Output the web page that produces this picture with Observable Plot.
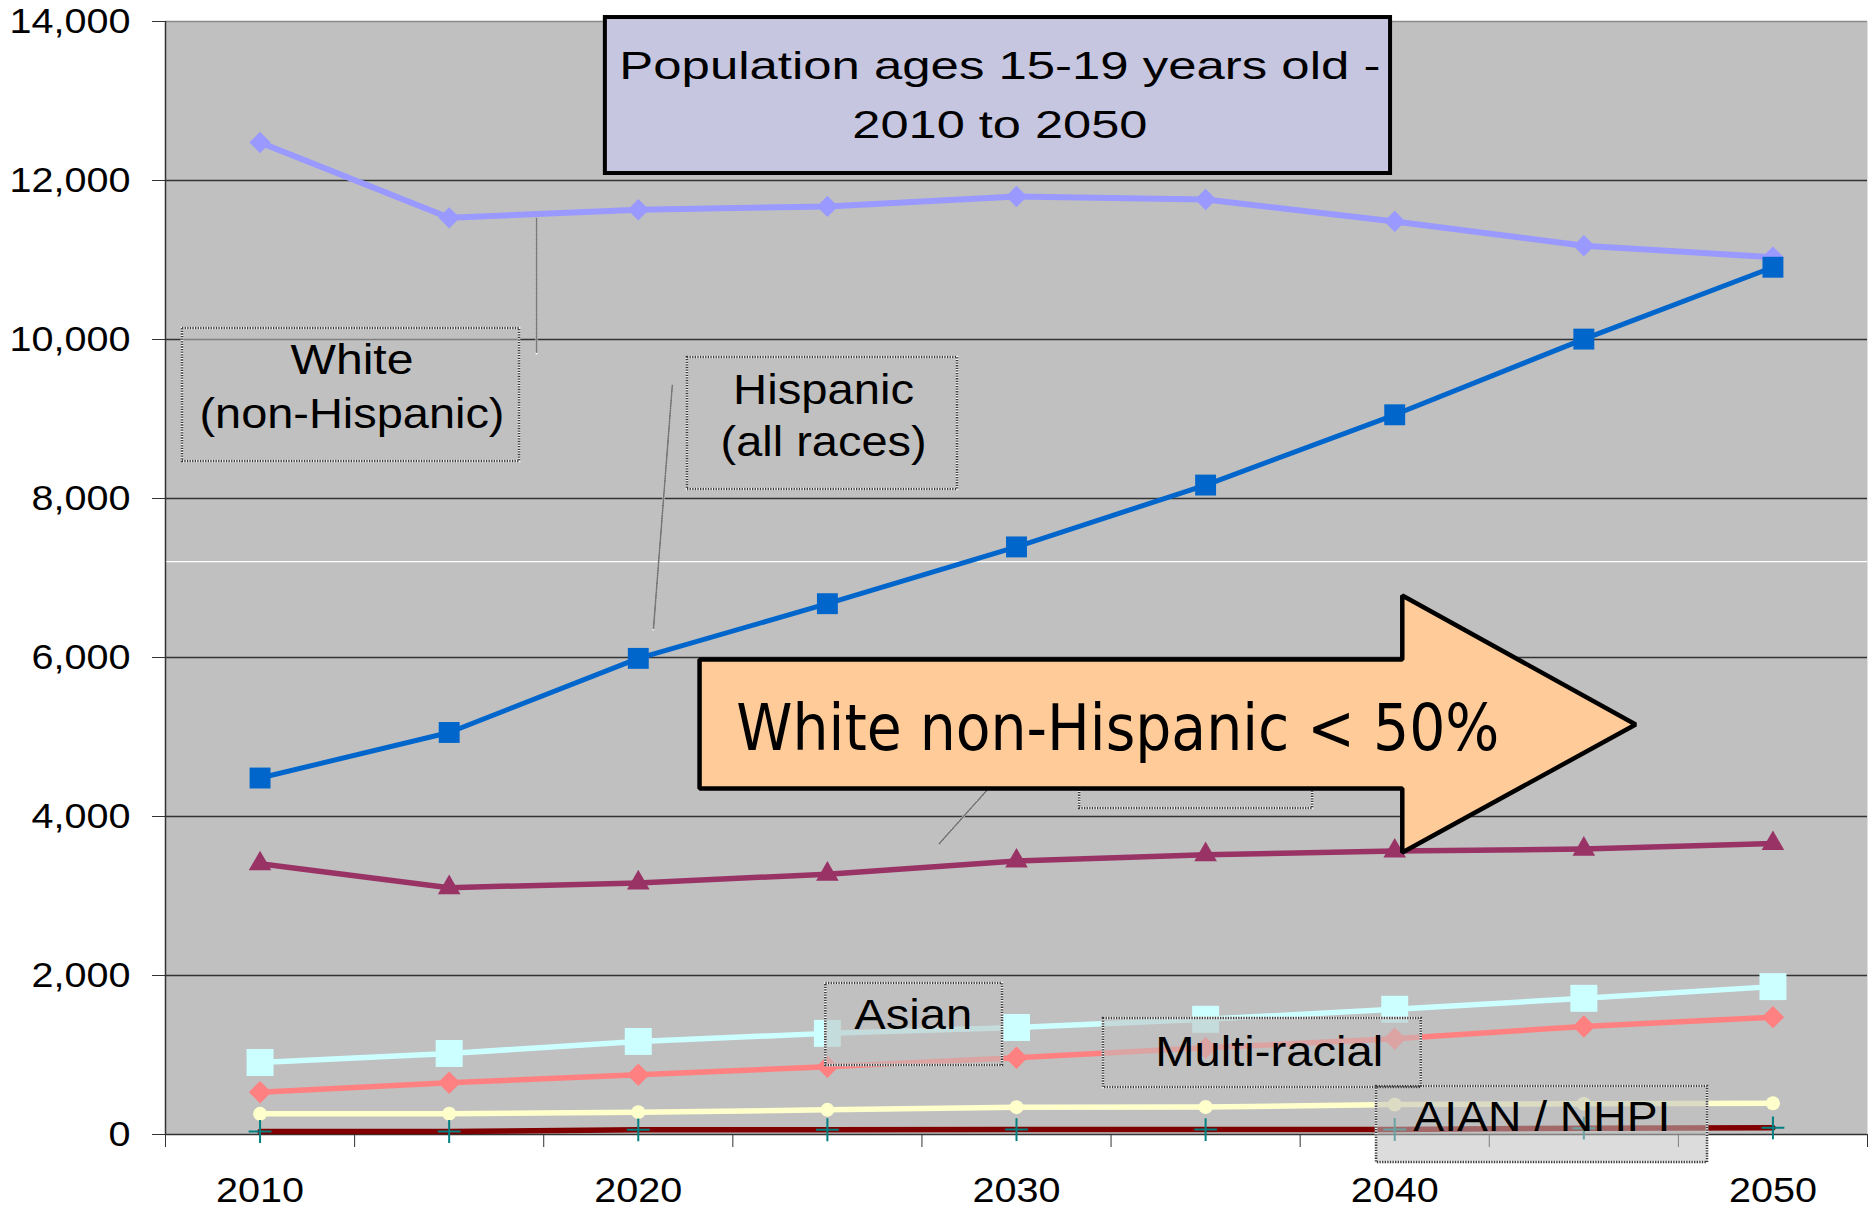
<!DOCTYPE html>
<html>
<head>
<meta charset="utf-8">
<script src="https://cdn.jsdelivr.net/npm/d3@7"></script>
<script src="https://cdn.jsdelivr.net/npm/@observablehq/plot@0.6"></script>
<style>
html, body { margin: 0; padding: 0; background: #fff; }
svg { display: block; }
</style>
</head>
<body>
<div id="chart"></div>
<script>
// ---------- data ----------
const years = [2010, 2015, 2020, 2025, 2030, 2035, 2040, 2045, 2050];
const labeledYears = [2010, 2020, 2030, 2040, 2050];
const yTicks = [0, 2000, 4000, 6000, 8000, 10000, 12000, 14000];

const whiteNonHispanic = [12478, 11531, 11632, 11674, 11799, 11761, 11485, 11179, 11036];
const hispanic         = [4484, 5057, 5989, 6677, 7391, 8169, 9053, 10005, 10909];
const black            = [3405, 3105, 3165, 3275, 3440, 3520, 3565, 3590, 3660];
const asian            = [906, 1019, 1170, 1272, 1346, 1449, 1575, 1713, 1860];
const multiRacial      = [532, 650, 751, 851, 965, 1090, 1204, 1359, 1476];
const aian             = [260, 262, 281, 310, 344, 346, 377, 386, 394];
const nhpi             = [38, 38, 59, 60, 62, 62, 63, 80, 84];

const seriesNames  = ["White", "Black", "AIAN", "Asian", "NHPI", "Multi-racial", "Hispanic"];
const seriesValues = [whiteNonHispanic, black, aian, asian, nhpi, multiRacial, hispanic];

// ---------- text ----------
const titleLines = ["Population ages 15-19 years old -", "2010 to 2050"];
const whiteLabel = ["White", "(non-Hispanic)"];
const hispanicLabel = ["Hispanic", "(all races)"];
const arrowText = "White non-Hispanic < 50%";
const asianLabel = "Asian";
const multiLabel = "Multi-racial";
const aianLabel = "AIAN / NHPI";

// ---------- styles ----------
const lineColors   = ["#9999FF", "#993366", "#FFFFCC", "#CCFFFF", "#800000", "#FF8080", "#0066CC"];
const markerSyms   = ["diamond2", "triangle", "circle", "square", "plus", "diamond2", "square"];
const markerR      = [9.6, 8.4, 7, 15.2, 7.4, 10.1, 11.8];
const markerColors = ["#9999FF", "#993366", "#FFFFCC", "#CCFFFF", "#008080", "#FF8080", "#0066CC"];
const lineWidths   = [6, 5.5, 5.5, 5.5, 5.5, 5.5, 5];

const font = "'Liberation Sans', Arial, sans-serif";

// ---------- annotation geometry (data units: year, population) ----------
const xDomain = [2007.5, 2052.5];
const yDomain = [0, 14000];
const boundaries = [...years.map(y => y - 2.5), years[years.length - 1] + 2.5];
const strayLine = [7205];

const titleBox = [{x1: 2019.13, x2: 2039.89, y1: 12088, y2: 14050}];
const titleText = [
  {x: 2029.56, y: 13440, t: titleLines[0]},
  {x: 2029.56, y: 12686, t: titleLines[1]}
];
const labelBoxes = [
  {x1: 2007.95, x2: 2016.86, y1: 8465, y2: 10138},   // White
  {x1: 2021.30, x2: 2028.44, y1: 8113, y2: 9774},    // Hispanic
  {x1: 2024.96, x2: 2029.63, y1: 868,  y2: 1899},    // Asian
  {x1: 2032.30, x2: 2040.70, y1: 591,  y2: 1459},    // Multi-racial
  {x1: 2039.52, x2: 2048.27, y1: -352, y2: 604}      // AIAN / NHPI
];
const hiddenBox = [{x1: 2031.67, x2: 2037.83, y1: 4101, y2: 4956}];
const labelTexts = [
  {x: 2012.43, y: 9737, t: whiteLabel[0]},
  {x: 2012.43, y: 9058, t: whiteLabel[1]},
  {x: 2024.90, y: 9360, t: hispanicLabel[0]},
  {x: 2024.90, y: 8706, t: hispanicLabel[1]},
  {x: 2027.27, y: 1498, t: asianLabel},
  {x: 2036.68, y: 1033, t: multiLabel},
  {x: 2043.89, y: 219,  t: aianLabel}
];
const leaders = [
  [{x: 2017.31, y: 11522}, {x: 2017.31, y: 9824}],
  [{x: 2020.90, y: 9421},  {x: 2020.40, y: 6352}],
  [{x: 2029.21, y: 4327},  {x: 2027.96, y: 3660}]
];
const arrowPts = [
  {x: 2021.62, y: 5975}, {x: 2040.20, y: 5975}, {x: 2040.20, y: 6780},
  {x: 2046.37, y: 5157}, {x: 2040.20, y: 3547}, {x: 2040.20, y: 4352},
  {x: 2021.62, y: 4352}
];
const arrowLabel = [{x: 2032.68, y: 5088, t: arrowText}];

// target rendered widths (px) of annotation strings
const textWidths = new Map([
  [titleLines[0], 761], [titleLines[1], 295],
  [whiteLabel[0], 123], [whiteLabel[1], 305],
  [hispanicLabel[0], 181], [hispanicLabel[1], 206],
  [arrowText, 763], [asianLabel, 118], [multiLabel, 228], [aianLabel, 257]
]);

// ---------- build rows ----------
const rows = seriesNames.map((name, i) =>
  years.map((year, j) => ({series: name, year, value: seriesValues[i][j]})));

const seriesMarks = rows.flatMap((data, i) => {
  const sym = markerSyms[i];
  const strokeSym = sym === "plus";
  return [
    Plot.line(data, {x: "year", y: "value", stroke: lineColors[i], strokeWidth: lineWidths[i], strokeLinejoin: "round"}),
    Plot.dot(data, strokeSym
      ? {x: "year", y: "value", symbol: sym, r: markerR[i], stroke: markerColors[i], strokeWidth: 2, fill: "none"}
      : {x: "year", y: "value", symbol: sym, r: markerR[i], fill: markerColors[i], stroke: "none"})
  ];
});

const dottedRect = (data) => [
  Plot.rect(data, {x1: "x1", x2: "x2", y1: "y1", y2: "y2", fill: "#C0C0C0", fillOpacity: 0.55, stroke: "#f4f4f4", strokeWidth: 2.6}),
  Plot.rect(data, {x1: "x1", x2: "x2", y1: "y1", y2: "y2", fill: "none", stroke: "#3a3a3a", strokeWidth: 2.6, strokeDasharray: "1.3,1.3"})
];
const dottedLine = (pts) => [
  Plot.line(pts, {x: "x", y: "y", stroke: "white", strokeWidth: 2}),
  Plot.line(pts, {x: "x", y: "y", stroke: "#777", strokeWidth: 2, strokeDasharray: "1,1.5"})
];

const svg = Plot.plot({
  width: 1875,
  height: 1210,
  marginLeft: 165,
  marginRight: 8,
  marginTop: 21,
  marginBottom: 76,
  style: {fontFamily: font, fontSize: "34px", background: "white", color: "black"},
  x: {domain: xDomain},
  y: {domain: yDomain},
  marks: [
    Plot.frame({fill: "#C0C0C0", stroke: "none"}),
    Plot.ruleY(strayLine, {stroke: "white", strokeWidth: 1.2}),
    Plot.gridY(yTicks.slice(0, -1), {stroke: "#333", strokeOpacity: 1, strokeWidth: 1.5}),
    Plot.ruleY(yTicks.slice(-1), {stroke: "#8a8a8a", strokeWidth: 1.5}),
    Plot.ruleX(xDomain.slice(0, 1), {stroke: "#333", strokeWidth: 1.5}),
    Plot.axisY(yTicks, {tickSize: 13, tickPadding: 22, tickFormat: d3.format(","), fontSize: 35, stroke: "#333", fill: "black", label: null}),
    Plot.axisX(boundaries, {tickSize: 13, tickFormat: () => "", stroke: "#333", label: null}),
    Plot.axisX(labeledYears, {tickSize: 0, tickPadding: 43, tickFormat: d3.format("d"), fontSize: 35, fill: "black", label: null}),
    ...seriesMarks,
    // title box
    Plot.rect(titleBox, {x1: "x1", x2: "x2", y1: "y1", y2: "y2", fill: "#C6C6E0", stroke: "black", strokeWidth: 4}),
    Plot.text(titleText, {x: "x", y: "y", text: "t", fontSize: 39, fontFamily: font, fill: "black"}),
    // leader lines
    ...leaders.flatMap(dottedLine),
    // label boxes
    ...dottedRect(hiddenBox),
    ...dottedRect(labelBoxes),
    Plot.text(labelTexts, {x: "x", y: "y", text: "t", fontSize: 42, fontFamily: font, fill: "black"}),
    // big arrow
    Plot.line(arrowPts, {x: "x", y: "y", curve: "linear-closed", fill: "#FFCC99", stroke: "black", strokeWidth: 4.5, strokeLinejoin: "miter"}),
    Plot.text(arrowLabel, {x: "x", y: "y", text: "t", fontSize: 64, fontFamily: "'DejaVu Sans Condensed', 'DejaVu Sans', Tahoma, sans-serif", fill: "black"})
  ]
});

document.getElementById("chart").append(svg);

// horizontal stretch to match the reference's proportions
d3.select(svg).selectAll("text").each(function () {
  const t = this.textContent;
  if (textWidths.has(t)) {
    this.setAttribute("textLength", textWidths.get(t));
    this.setAttribute("lengthAdjust", "spacingAndGlyphs");
  }
});
d3.select(svg).selectAll('g[aria-label$="tick label"] text').each(function () {
  const L = this.getComputedTextLength();
  if (L > 0) {
    this.setAttribute("textLength", L * 1.13);
    this.setAttribute("lengthAdjust", "spacingAndGlyphs");
  }
});
</script>
</body>
</html>
